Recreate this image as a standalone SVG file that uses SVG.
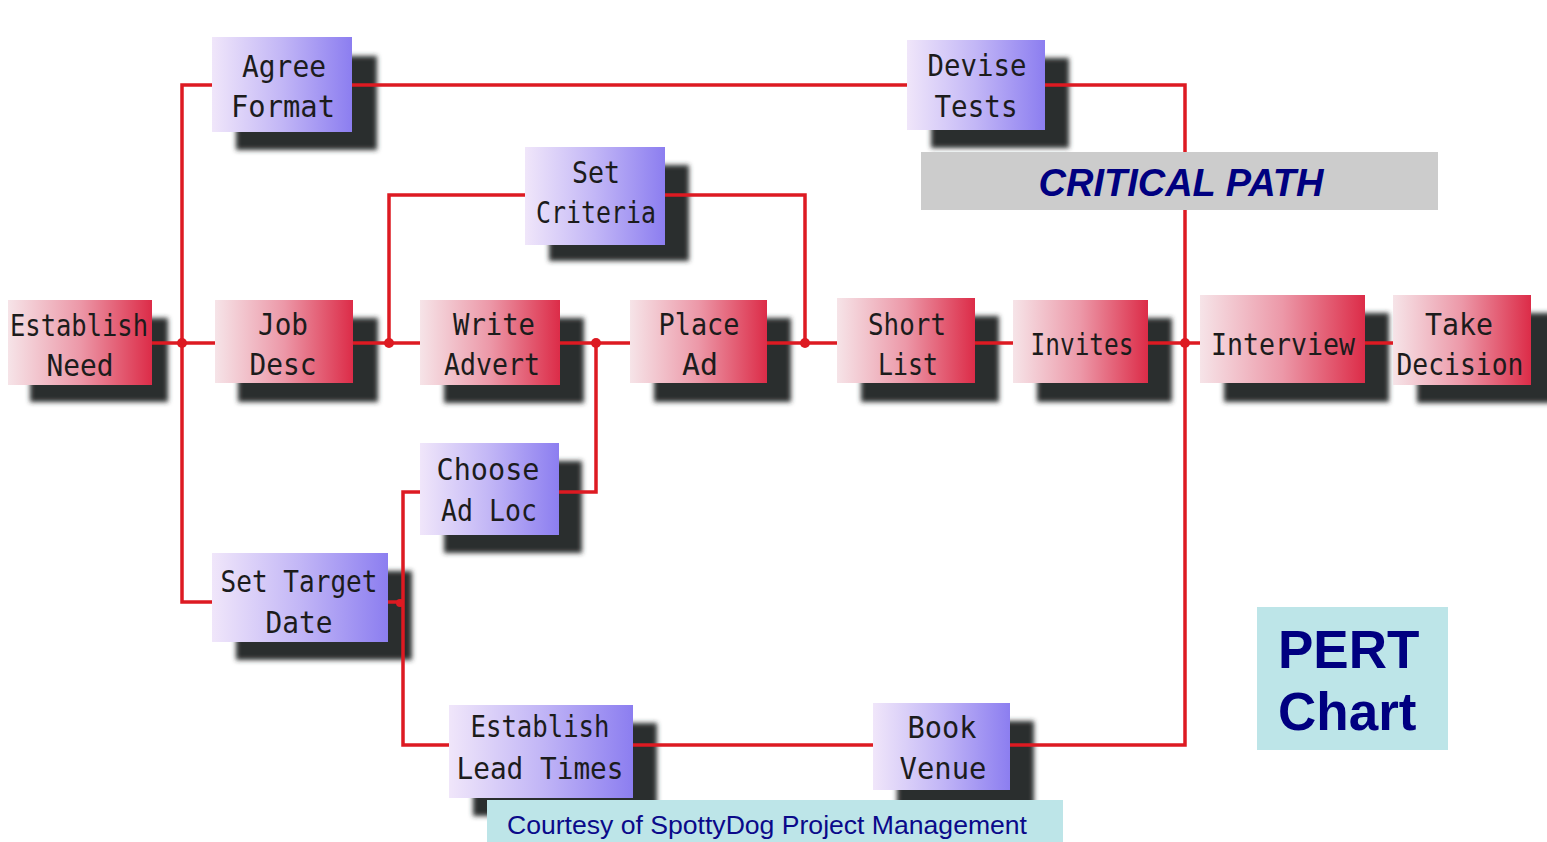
<svg xmlns="http://www.w3.org/2000/svg" width="1547" height="842" viewBox="0 0 1547 842">
<defs>
<linearGradient id="gRed" x1="0" y1="0" x2="1" y2="0">
<stop offset="0" stop-color="#f6e4e8"/>
<stop offset="0.5" stop-color="#ec98a8"/>
<stop offset="1" stop-color="#dc2c48"/>
</linearGradient>
<linearGradient id="gPur" x1="0" y1="0" x2="1" y2="0">
<stop offset="0" stop-color="#f0e6fa"/>
<stop offset="0.5" stop-color="#c2b6f6"/>
<stop offset="1" stop-color="#8c7ef0"/>
</linearGradient>
<filter id="blur" x="-20%" y="-20%" width="140%" height="140%">
<feGaussianBlur stdDeviation="2.5"/>
</filter>
</defs>
<style>
.sh{fill:#2b2f2f;filter:url(#blur)}
.r{fill:url(#gRed)}
.p{fill:url(#gPur)}
.t{font-family:"DejaVu Sans Mono","Liberation Mono",monospace;font-size:30px;fill:#1c1c1c;text-anchor:middle}
.c{stroke:#dd1a22;stroke-width:3.5;fill:none}
.d{fill:#dd1a22}
</style>
<rect width="1547" height="842" fill="#ffffff"/>

<g id="establish-need">
<rect class="sh" x="30" y="318" width="138" height="84"/>
<rect class="r" x="8" y="300" width="144" height="85"/>
<text class="t" x="79" y="336" textLength="138" lengthAdjust="spacingAndGlyphs">Establish</text>
<text class="t" x="80" y="376" textLength="67" lengthAdjust="spacingAndGlyphs">Need</text>
</g>
<g id="agree-format">
<rect class="sh" x="236" y="56" width="141" height="94"/>
<rect class="p" x="212" y="37" width="140" height="95"/>
<text class="t" x="284" y="77" textLength="84" lengthAdjust="spacingAndGlyphs">Agree</text>
<text class="t" x="283" y="117" textLength="104" lengthAdjust="spacingAndGlyphs">Format</text>
</g>
<g id="devise-tests">
<rect class="sh" x="931" y="58" width="138" height="90"/>
<rect class="p" x="907" y="40" width="138" height="90"/>
<text class="t" x="977" y="76" textLength="99" lengthAdjust="spacingAndGlyphs">Devise</text>
<text class="t" x="976" y="117" textLength="83" lengthAdjust="spacingAndGlyphs">Tests</text>
</g>
<g id="set-criteria">
<rect class="sh" x="549" y="165" width="140" height="96"/>
<rect class="p" x="525" y="147" width="140" height="98"/>
<text class="t" x="596" y="183" textLength="48" lengthAdjust="spacingAndGlyphs">Set</text>
<text class="t" x="596" y="223" textLength="120" lengthAdjust="spacingAndGlyphs">Criteria</text>
</g>
<g id="job-desc">
<rect class="sh" x="238" y="318" width="140" height="84"/>
<rect class="r" x="215" y="300" width="138" height="83"/>
<text class="t" x="283" y="335" textLength="50" lengthAdjust="spacingAndGlyphs">Job</text>
<text class="t" x="283" y="375" textLength="67" lengthAdjust="spacingAndGlyphs">Desc</text>
</g>
<g id="write-advert">
<rect class="sh" x="444" y="318" width="140" height="85"/>
<rect class="r" x="420" y="300" width="140" height="85"/>
<text class="t" x="494" y="335" textLength="82" lengthAdjust="spacingAndGlyphs">Write</text>
<text class="t" x="492" y="375" textLength="96" lengthAdjust="spacingAndGlyphs">Advert</text>
</g>
<g id="place-ad">
<rect class="sh" x="654" y="318" width="137" height="84"/>
<rect class="r" x="630" y="300" width="137" height="83"/>
<text class="t" x="699" y="335" textLength="81" lengthAdjust="spacingAndGlyphs">Place</text>
<text class="t" x="700" y="375" textLength="36" lengthAdjust="spacingAndGlyphs">Ad</text>
</g>
<g id="short-list">
<rect class="sh" x="861" y="316" width="138" height="86"/>
<rect class="r" x="837" y="298" width="138" height="85"/>
<text class="t" x="907" y="335" textLength="78" lengthAdjust="spacingAndGlyphs">Short</text>
<text class="t" x="908" y="375" textLength="60" lengthAdjust="spacingAndGlyphs">List</text>
</g>
<g id="invites">
<rect class="sh" x="1037" y="318" width="135" height="84"/>
<rect class="r" x="1013" y="300" width="135" height="83"/>
<text class="t" x="1082" y="355" textLength="103" lengthAdjust="spacingAndGlyphs">Invites</text>
</g>
<g id="interview">
<rect class="sh" x="1224" y="313" width="165" height="89"/>
<rect class="r" x="1200" y="295" width="165" height="88"/>
<text class="t" x="1283" y="355" textLength="144" lengthAdjust="spacingAndGlyphs">Interview</text>
</g>
<g id="take-decision">
<rect class="sh" x="1417" y="313" width="138" height="90"/>
<rect class="r" x="1393" y="295" width="138" height="90"/>
<text class="t" x="1459" y="335" textLength="68" lengthAdjust="spacingAndGlyphs">Take</text>
<text class="t" x="1460" y="375" textLength="127" lengthAdjust="spacingAndGlyphs">Decision</text>
</g>
<g id="choose-ad-loc">
<rect class="sh" x="444" y="461" width="138" height="92"/>
<rect class="p" x="420" y="443" width="139" height="92"/>
<text class="t" x="488" y="480" textLength="103" lengthAdjust="spacingAndGlyphs">Choose</text>
<text class="t" x="489" y="521" textLength="96" lengthAdjust="spacingAndGlyphs">Ad Loc</text>
</g>
<g id="set-target-date">
<rect class="sh" x="236" y="571" width="176" height="89"/>
<rect class="p" x="212" y="553" width="176" height="89"/>
<text class="t" x="299" y="592" textLength="157" lengthAdjust="spacingAndGlyphs">Set Target</text>
<text class="t" x="299" y="633" textLength="67" lengthAdjust="spacingAndGlyphs">Date</text>
</g>
<g id="establish-lead-times">
<rect class="sh" x="473" y="723" width="184" height="93"/>
<rect class="p" x="449" y="705" width="184" height="93"/>
<text class="t" x="540" y="737" textLength="139" lengthAdjust="spacingAndGlyphs">Establish</text>
<text class="t" x="540" y="779" textLength="167" lengthAdjust="spacingAndGlyphs">Lead Times</text>
</g>
<g id="book-venue">
<rect class="sh" x="897" y="721" width="137" height="87"/>
<rect class="p" x="873" y="703" width="137" height="87"/>
<text class="t" x="942" y="738" textLength="69" lengthAdjust="spacingAndGlyphs">Book</text>
<text class="t" x="943" y="779" textLength="87" lengthAdjust="spacingAndGlyphs">Venue</text>
</g>

<g id="connectors">
<path class="c" d="M152 343 H215"/>
<path class="c" d="M212 85 H182 V602 H212"/>
<path class="c" d="M352 85 H907"/>
<path class="c" d="M1045 85 H1185 V745 H1010"/>
<path class="c" d="M1148 343 H1200"/>
<path class="c" d="M1365 343 H1393"/>
<path class="c" d="M975 343 H1013"/>
<path class="c" d="M353 343 H420"/>
<path class="c" d="M389 343 V195 H525"/>
<path class="c" d="M665 195 H805 V343"/>
<path class="c" d="M767 343 H837"/>
<path class="c" d="M560 343 H630"/>
<path class="c" d="M596 343 V492 H559"/>
<path class="c" d="M420 492 H403 V745 H449"/>
<path class="c" d="M388 602 H403"/>
<path class="c" d="M633 745 H873"/>
<circle class="d" cx="182" cy="343" r="5"/>
<circle class="d" cx="389" cy="343" r="5"/>
<circle class="d" cx="596" cy="343" r="5"/>
<circle class="d" cx="805" cy="343" r="5"/>
<circle class="d" cx="1185" cy="343" r="5"/>
<circle class="d" cx="400" cy="603" r="4"/>
</g>

<g id="critical-path">
<rect x="921" y="152" width="517" height="58" fill="#cccccc"/>
<text x="1181" y="196" font-family="Liberation Sans, Arial, sans-serif" font-size="38" font-weight="bold" font-style="italic" fill="#000080" text-anchor="middle">CRITICAL PATH</text>
</g>
<g id="pert-chart">
<rect x="1257" y="607" width="191" height="143" fill="#bde5e8"/>
<text x="1278" y="668" font-family="Liberation Sans, Arial, sans-serif" font-size="53" font-weight="bold" fill="#000080">PERT</text>
<text x="1278" y="730" font-family="Liberation Sans, Arial, sans-serif" font-size="53" font-weight="bold" fill="#000080">Chart</text>
</g>
<g id="courtesy">
<rect x="487" y="800" width="576" height="42" fill="#bde5e8"/>
<text x="507" y="834" font-family="Liberation Sans, Arial, sans-serif" font-size="26" fill="#0a0a8a" textLength="520" lengthAdjust="spacingAndGlyphs">Courtesy of SpottyDog Project Management</text>
</g>
</svg>
